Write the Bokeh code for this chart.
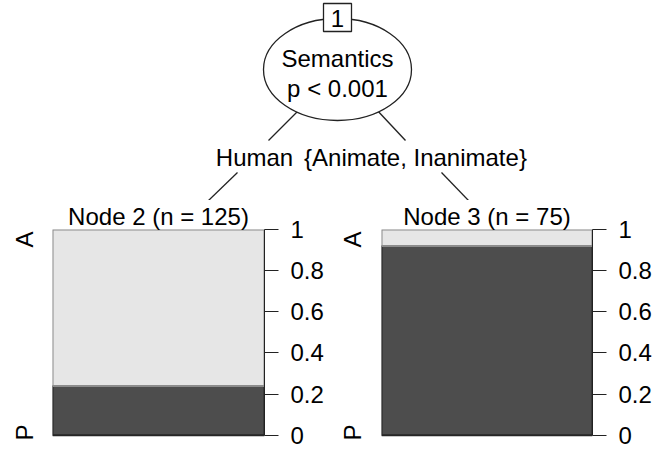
import math
from bokeh.plotting import figure
from bokeh.layouts import column, row
from bokeh.models import Range1d, LinearAxis, FixedTicker
from bokeh.core.properties import value
from bokeh.embed import file_html
from bokeh.resources import INLINE

# ---- data ----
split_id = 1
split_var = "Semantics"
split_p = "p < 0.001"
edge_labels = ["Human", "{Animate, Inanimate}"]
node_ids = [2, 3]
node_n = [125, 75]
prop_P = [0.24, 0.92]          # share of class P (dark, bottom)
classes = ["P", "A"]           # bottom, top
class_label_pos = [0.014, 0.952]
y_ticks = [0, 0.2, 0.4, 0.6, 0.8, 1]
y_tick_labels = ["0", "0.2", "0.4", "0.6", "0.8", "1"]

FONT = value("Liberation Sans")
FS = "24px"
LIGHT = "#e6e6e6"
DARK = "#4d4d4d"

# layout constants (pixels)
ROW_H = 249
BT, BB = 27, 8
Y_LO = -0.03
STRIP_W = 40

# ---- tree part ----
top = figure(width=656, height=200, x_range=Range1d(0, 656), y_range=Range1d(200, 0),
             toolbar_location=None, output_backend="svg", x_axis_type=None, y_axis_type=None,
             min_border=0)
top.grid.visible = False
top.outline_line_color = None

# edges (interrupted by the edge labels)
top.segment(x0=[300, 237, 375, 441], y0=[108, 172, 108, 172],
            x1=[268, 208, 405, 468], y1=[140, 200, 140, 200],
            line_color="#222222", line_width=1.3)
top.ellipse(x=337, y=69, width=148, height=102, fill_color="white",
            line_color="#222222", line_width=1.3)
top.rect(x=337, y=17, width=28, height=28, fill_color="white",
         line_color="#222222", line_width=1.3)
top.text(x=[337], y=[18], text=[str(split_id)], text_font=FONT, text_font_size=FS,
         text_align="center", text_baseline="middle", text_color="black")
top.text(x=[337, 337], y=[58, 88], text=[split_var, split_p], text_font=FONT,
         text_font_size=FS, text_align="center", text_baseline="middle", text_color="black")
top.text(x=[254, 415], y=[157, 157], text=edge_labels, text_font=FONT,
         text_font_size=FS, text_align="center", text_baseline="middle", text_color="black")


def make_strip():
    s = figure(width=STRIP_W, height=ROW_H, x_range=Range1d(0, STRIP_W), y_range=Range1d(Y_LO, 1),
               toolbar_location=None, output_backend="svg", x_axis_type=None, y_axis_type=None,
               min_border_left=0, min_border_right=0, min_border_top=BT, min_border_bottom=BB)
    s.grid.visible = False
    s.outline_line_color = None
    s.text(x=[24, 24], y=class_label_pos, text=classes, angle=math.pi / 2,
           text_font=FONT, text_font_size=FS, text_align="center",
           text_baseline="alphabetic", text_color="black")
    return s


def make_panel(idx, width, bl, br):
    p = figure(width=width, height=ROW_H, x_range=Range1d(0, 1), y_range=Range1d(Y_LO, 1),
               toolbar_location=None, output_backend="svg", x_axis_type=None, y_axis_type=None,
               min_border_left=bl, min_border_right=br, min_border_top=BT, min_border_bottom=BB,
               title=f"Node {node_ids[idx]} (n = {node_n[idx]})")
    p.title.align = "center"
    p.title.text_font = "Liberation Sans"
    p.title.text_font_size = FS
    p.title.text_font_style = "normal"
    p.title.text_color = "black"
    p.title.standoff = 0
    p.grid.visible = False
    p.outline_line_color = None
    p.quad(left=[0], right=[1], bottom=[0], top=[prop_P[idx]], fill_color=DARK,
           line_color="#262626", line_width=2)
    p.quad(left=[0], right=[1], bottom=[prop_P[idx]], top=[1], fill_color=LIGHT,
           line_color="#8c8c8c", line_width=2)

    ax = LinearAxis(ticker=FixedTicker(ticks=y_ticks), bounds=(0, 1),
                    major_label_overrides={t: l for t, l in zip(y_ticks, y_tick_labels)})
    ax.major_tick_out = 14
    ax.major_tick_in = 0
    ax.minor_tick_out = 0
    ax.minor_tick_in = 0
    ax.major_label_standoff = 12
    ax.major_label_text_font = "Liberation Sans"
    ax.major_label_text_font_size = FS
    ax.major_label_text_color = "black"
    ax.axis_line_color = "#222222"
    ax.major_tick_line_color = "#222222"
    p.add_layout(ax, "right")
    return p


s2 = make_strip()
p2 = make_panel(0, 328 - STRIP_W, 52 - STRIP_W, 64)
s3 = make_strip()
p3 = make_panel(1, 328 - STRIP_W, 53 - STRIP_W, 64)

layout = column(top, row(s2, p2, s3, p3, spacing=0), spacing=0)
open("out.html", "w").write(file_html(layout, INLINE))
